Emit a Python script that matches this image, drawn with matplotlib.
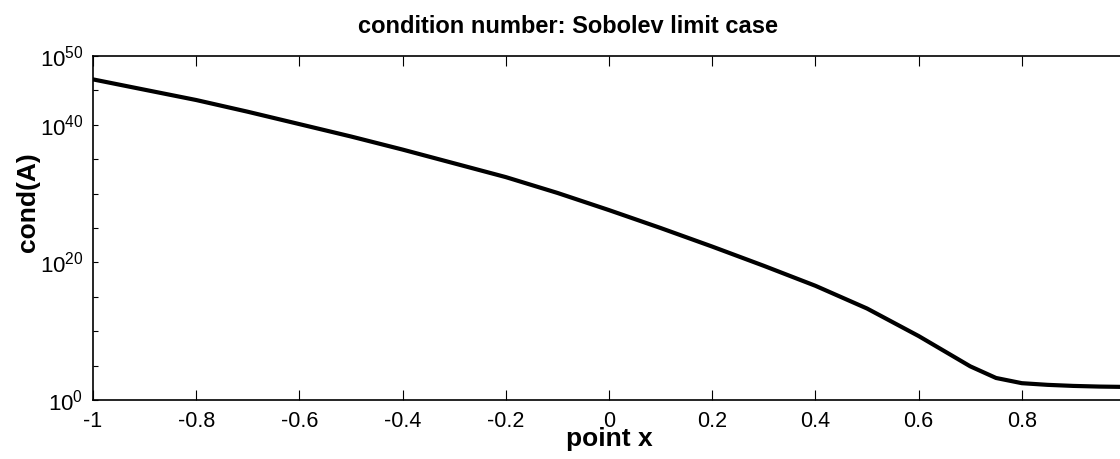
import matplotlib
matplotlib.use("Agg")
import matplotlib.pyplot as plt
from matplotlib.ticker import FixedLocator, FixedFormatter, NullLocator

plt.rcParams['font.family'] = ['Liberation Sans', 'DejaVu Sans']
plt.rcParams['mathtext.fontset'] = 'custom'
plt.rcParams['mathtext.rm'] = 'Liberation Sans'

# point x and condition number
xs = [-1.0, -0.9, -0.8, -0.7, -0.6, -0.5, -0.4, -0.3, -0.2, -0.1, 0.0,
      0.1, 0.2, 0.3, 0.4, 0.5, 0.6, 0.65, 0.7, 0.75, 0.8, 0.85, 0.9, 0.95, 1.0]
cond = [4.0e46, 1.26e45, 4.0e43, 7.9e41, 1.26e40, 2.0e38, 2.5e36, 2.5e34,
        2.5e32, 1.26e30, 4.0e27, 1.0e25, 2.0e22, 3.2e19, 4.0e16, 2.0e13,
        2.0e9, 1.26e7, 7.9e4, 1.6e3, 280, 160, 112, 90, 80]

# the last tick (1) sits on the cropped right edge, its label is not shown
xticks = [-1, -0.8, -0.6, -0.4, -0.2, 0, 0.2, 0.4, 0.6, 0.8, 1]
xticklabels = ['-1', '-0.8', '-0.6', '-0.4', '-0.2', '0', '0.2', '0.4', '0.6', '0.8', '']
ydecades = [0, 5, 10, 15, 20, 25, 30, 35, 40, 45, 50]
ylabelled = [0, 20, 40, 50]

fig = plt.figure(figsize=(11.2, 4.59), dpi=100)
ax = fig.add_axes([0.083, 0.1285, 0.9215, 0.7495])

ax.plot(xs, cond, color='black', linewidth=3)
ax.set_yscale('log')
ax.set_xlim(-1, 1)
ax.set_ylim(1, 1e50)

ax.set_xticks(xticks)
ax.set_xticklabels(xticklabels)
ax.yaxis.set_major_locator(FixedLocator([10.0 ** d for d in ydecades]))
ax.yaxis.set_major_formatter(FixedFormatter(
    [r'$\mathregular{10^{%d}}$' % d if d in ylabelled else '' for d in ydecades]))
ax.yaxis.set_minor_locator(NullLocator())

ax.tick_params(axis='x', direction='in', top=True, length=7, width=0.8,
               labelsize=15.5, pad=8)
ax.tick_params(axis='y', direction='in', right=False, length=3.5, width=0.8,
               labelsize=16, pad=7)
for s in ax.spines.values():
    s.set_linewidth(1.2)

ax.set_title('condition number: Sobolev limit case', fontsize=17,
             fontweight='bold', x=0.46, y=1.067, pad=0)
ax.set_xlabel('point x', fontsize=19, fontweight='bold')
ax.xaxis.set_label_coords(0.5, -0.077)
ax.set_ylabel('cond(A)', fontsize=19, fontweight='bold')
ax.yaxis.set_label_coords(-0.051, 0.576)

fig.savefig('out.png', dpi=100)
